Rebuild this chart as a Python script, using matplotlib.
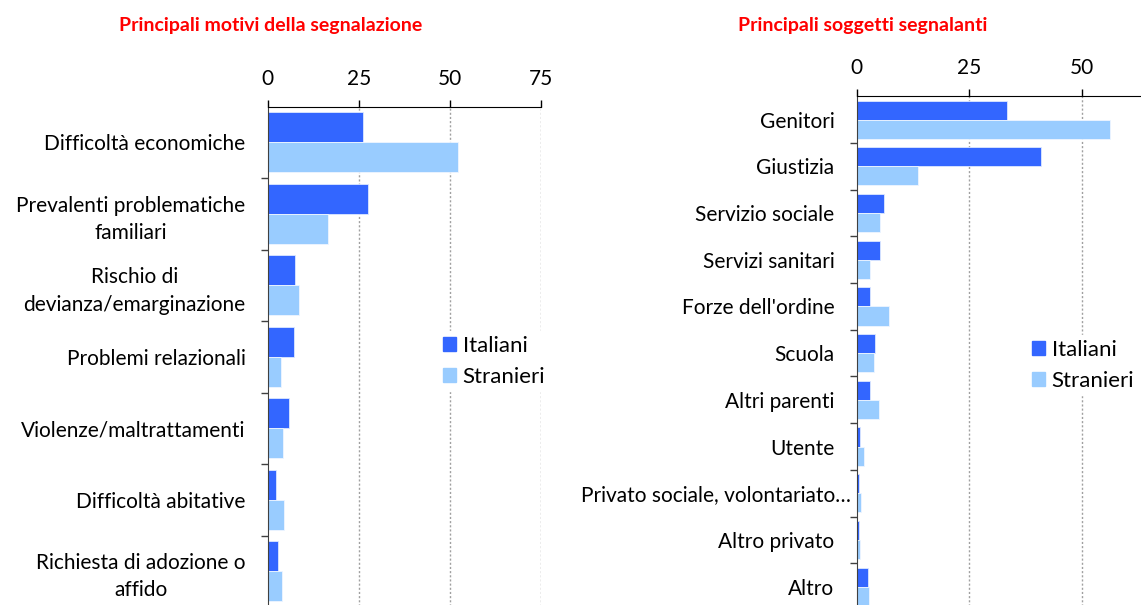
import numpy as np
import matplotlib.pyplot as plt
from matplotlib.patches import Patch
from matplotlib.transforms import ScaledTranslation

plt.rcParams['font.family'] = ['Lato', 'DejaVu Sans']

# dati - motivi della segnalazione
motivi = ["Difficoltà economiche", "Prevalenti problematiche\nfamiliari",
          "Rischio di\ndevianza/emarginazione", "Problemi relazionali",
          "Violenze/maltrattamenti", "Difficoltà abitative",
          "Richiesta di adozione o\naffido"]
motivi_ita = [26.2, 27.5, 7.4, 7.2, 5.8, 2.3, 2.7]
motivi_str = [52.3, 16.6, 8.6, 3.7, 4.3, 4.5, 3.8]

# dati - soggetti segnalanti
soggetti = ["Genitori", "Giustizia", "Servizio sociale", "Servizi sanitari",
            "Forze dell'ordine", "Scuola", "Altri parenti", "Utente",
            "Privato sociale, volontariato…", "Altro privato", "Altro"]
soggetti_ita = [33.4, 40.8, 6.1, 5.1, 3.0, 4.1, 3.0, 0.7, 0.6, 0.6, 2.4]
soggetti_str = [56.2, 13.5, 5.2, 2.9, 7.2, 3.9, 4.9, 1.6, 1.0, 0.7, 2.7]

c_ita = '#3366FF'
c_str = '#99CCFF'

W, H = 1141, 605
fig = plt.figure(figsize=(W / 100, H / 100), dpi=100)


def draw(rect, cats, ita, stra, h, ticks_x):
    ax = fig.add_axes(rect)
    pos = np.arange(len(cats))
    ax.barh(pos - h / 2, ita, height=h, color=c_ita, edgecolor='#dde8ff', linewidth=0.6)
    ax.barh(pos + h / 2, stra, height=h, color=c_str, edgecolor='#eef5ff', linewidth=0.6)
    ax.set_xlim(0, 75)
    ax.set_ylim(len(cats) - 0.5, -0.5)
    ax.xaxis.tick_top()
    ax.set_xticks(ticks_x)
    ax.tick_params(axis='x', direction='out', length=5, width=1, pad=8,
                   labelsize=15, colors='black')
    ax.set_yticks(pos)
    ax.set_yticklabels(cats, fontsize=15, multialignment='center', linespacing=1.45)
    ax.tick_params(axis='y', which='major', length=0, pad=16)
    ax.set_yticks(np.arange(len(cats)) + 0.5, minor=True)
    ax.tick_params(axis='y', which='minor', direction='out', length=5, width=1, color='#404040')
    for x in [25, 50, 75]:
        ax.axvline(x, color='#a0a0a0', linestyle=(0, (1.5, 1.5)), linewidth=1, zorder=0)
    for s in ['right', 'bottom']:
        ax.spines[s].set_visible(False)
    ax.spines['top'].set_color('black')
    ax.spines['left'].set_color('#404040')
    ax.set_facecolor('white')
    return ax


ax1 = draw([267.7 / W, -2 / H, 273.3 / W, (H - 106.7 + 2) / H],
           motivi, motivi_ita, motivi_str, 0.42, [0, 25, 50, 75])
ax2 = draw([856.7 / W, -5 / H, 338 / W, (H - 96.3 + 5) / H],
           soggetti, soggetti_ita, soggetti_str, 0.41, [0, 25, 50])

# the long label is cut by excel and sits closer to the axis
lab = ax2.get_yticklabels()[8]
lab.set_transform(lab.get_transform() + ScaledTranslation(0.16, 0, fig.dpi_scale_trans))

fig.text(271 / W, 1 - 25 / H, "Principali motivi della segnalazione",
         color='red', fontsize=14, fontweight='bold', ha='center', va='center')
fig.text(863 / W, 1 - 25 / H, "Principali soggetti segnalanti",
         color='red', fontsize=14, fontweight='bold', ha='center', va='center')

handles = [Patch(color=c_ita, label='Italiani'), Patch(color=c_str, label='Stranieri')]
for x0, y0 in [(427 / W, 1 - 320 / H), (1016 / W, 1 - 324 / H)]:
    fig.legend(handles=handles, loc='upper left', bbox_to_anchor=(x0, y0),
               frameon=True, facecolor='white', edgecolor='white', framealpha=1,
               fontsize=16, handlelength=0.6, handleheight=0.6,
               handletextpad=0.3, labelspacing=0.5, borderpad=0.2)

fig.savefig('out.png', dpi=100)
